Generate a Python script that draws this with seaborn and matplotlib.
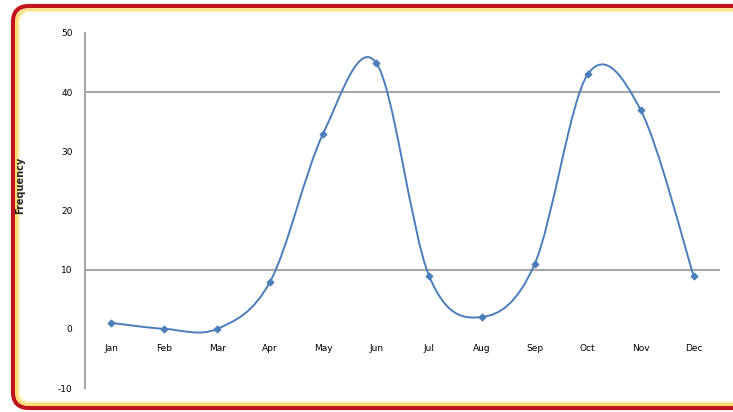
import matplotlib
matplotlib.use("Agg")
import matplotlib.pyplot as plt
import numpy as np
import pandas as pd
import seaborn as sns
from matplotlib.patches import FancyBboxPatch, PathPatch
from matplotlib.path import Path

sns.set_theme(style="white")
plt.rcParams['font.family'] = ['DejaVu Sans']

# data
months = ["Jan", "Feb", "Mar", "Apr", "May", "Jun",
          "Jul", "Aug", "Sep", "Oct", "Nov", "Dec"]
frequency = [1, 0, 0, 8, 33, 45, 9, 2, 11, 43, 37, 9]
y_ticks = [-10, 0, 10, 20, 30, 40, 50]
grid_levels = [10, 40]

LINE_BLUE = "#4A7EBB"
GRID_GRAY = "#A6A6A6"


def smooth_path(xs, ys):
    """Bezier path through the points, like the smoothed line option in Excel."""
    pts = np.column_stack([xs, ys]).astype(float)
    ext = np.vstack([pts[0], pts, pts[-1]])
    verts = [pts[0]]
    codes = [Path.MOVETO]
    for i in range(len(pts) - 1):
        p_prev, p0, p1, p_next = ext[i], ext[i + 1], ext[i + 2], ext[i + 3]
        c1 = p0 + (p1 - p_prev) / 6.0
        c2 = p1 - (p_next - p0) / 6.0
        verts += [c1, c2, p1]
        codes += [Path.CURVE4] * 3
    return Path(verts, codes)


df = pd.DataFrame({"month": months, "frequency": frequency})

fig = plt.figure(figsize=(7.33, 4.12), dpi=100)
fig.patch.set_facecolor("white")

# rounded red frame with a yellow inner glow
frame = FancyBboxPatch((0.13, 0.04), 7.45, 4.02,
                       boxstyle="round,pad=0,rounding_size=0.16",
                       transform=fig.dpi_scale_trans, facecolor="none",
                       edgecolor="#C0141A", linewidth=3.0, zorder=-2)
glow = FancyBboxPatch((0.165, 0.075), 7.40, 3.945,
                      boxstyle="round,pad=0,rounding_size=0.13",
                      transform=fig.dpi_scale_trans, facecolor="none",
                      edgecolor="#FFD24D", linewidth=2.2, alpha=0.8, zorder=-2)
glow2 = FancyBboxPatch((0.19, 0.10), 7.38, 3.91,
                       boxstyle="round,pad=0,rounding_size=0.11",
                       transform=fig.dpi_scale_trans, facecolor="none",
                       edgecolor="#FFF1B8", linewidth=1.5, alpha=0.8, zorder=-2)
for p in (frame, glow, glow2):
    fig.patches.append(p)

ax = fig.add_axes([85 / 733, 24 / 412, 635 / 733, 355 / 412])
ax.set_facecolor("none")

# smoothed line
x_pos = np.arange(len(months))
curve = PathPatch(smooth_path(x_pos, frequency), facecolor="none",
                  edgecolor=LINE_BLUE, linewidth=1.4, zorder=3)
ax.add_patch(curve)

sns.scatterplot(data=df, x="month", y="frequency", marker="D", s=14,
                color=LINE_BLUE, edgecolor=LINE_BLUE, linewidth=0.5,
                zorder=4, ax=ax)

for level in grid_levels:
    ax.axhline(level, color=GRID_GRAY, linewidth=1.5, zorder=1)

ax.set_xlim(-0.5, len(months) - 0.5)
ax.set_ylim(-10, 50)
ax.set_yticks(y_ticks)
ax.set_yticklabels([str(v) for v in y_ticks])
ax.set_xticks(x_pos)
ax.set_xticklabels(months)

for side in ["top", "right"]:
    ax.spines[side].set_visible(False)
ax.spines["left"].set_color(GRID_GRAY)
ax.spines["left"].set_linewidth(1.5)
ax.spines["bottom"].set_position(("data", 0))
ax.spines["bottom"].set_color("none")

ax.tick_params(axis="y", length=0, pad=9, labelsize=6.5, colors="black")
ax.tick_params(axis="x", length=0, pad=11, labelsize=6.5, colors="black")

ax.set_xlabel("")
ax.set_ylabel("Frequency", fontsize=7, fontweight="bold")
ax.yaxis.set_label_coords(-0.094, 0.57)

fig.savefig("out.png", dpi=100)
